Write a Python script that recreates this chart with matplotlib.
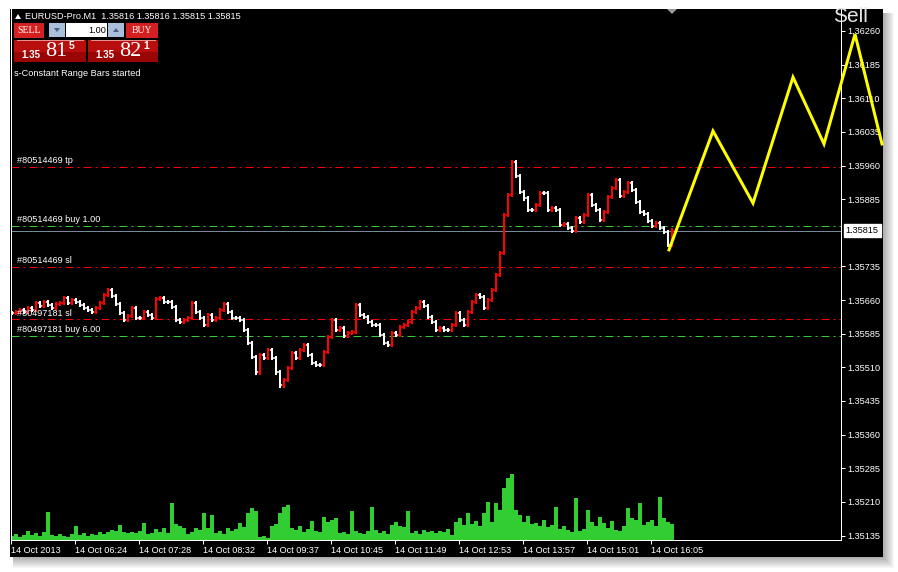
import matplotlib
matplotlib.use("Agg")
import matplotlib.pyplot as plt
from matplotlib.patches import Rectangle, Polygon
from matplotlib.transforms import blended_transform_factory

plt.rcParams['font.family'] = ['Liberation Sans', 'DejaVu Sans']

W, H = 898, 572

# closes of the range bars (one bar every 4 px)
closes = [
    1.35631, 1.35633, 1.35638, 1.35633, 1.35642, 1.35638, 1.35653, 1.35647, 1.35656, 1.35649,
    1.35642, 1.35651, 1.35653, 1.35664, 1.35653, 1.35660, 1.35656, 1.35649, 1.35642, 1.35638,
    1.35633, 1.35642, 1.35653, 1.35671, 1.35682, 1.35669, 1.35651, 1.35631, 1.35615, 1.35624,
    1.35642, 1.35620, 1.35620, 1.35633, 1.35627, 1.35620, 1.35662, 1.35664, 1.35656, 1.35656,
    1.35644, 1.35615, 1.35611, 1.35615, 1.35620, 1.35653, 1.35633, 1.35620, 1.35604, 1.35627,
    1.35615, 1.35620, 1.35638, 1.35651, 1.35633, 1.35620, 1.35620, 1.35615, 1.35593, 1.35564,
    1.35533, 1.35499, 1.35537, 1.35531, 1.35549, 1.35531, 1.35499, 1.35470, 1.35482, 1.35508,
    1.35542, 1.35531, 1.35549, 1.35560, 1.35537, 1.35520, 1.35515, 1.35515, 1.35544, 1.35578,
    1.35615, 1.35593, 1.35598, 1.35580, 1.35586, 1.35589, 1.35649, 1.35627, 1.35622, 1.35611,
    1.35604, 1.35604, 1.35582, 1.35564, 1.35560, 1.35586, 1.35582, 1.35600, 1.35604, 1.35611,
    1.35633, 1.35642, 1.35656, 1.35647, 1.35622, 1.35611, 1.35593, 1.35598, 1.35593, 1.35593,
    1.35604, 1.35631, 1.35615, 1.35604, 1.35633, 1.35656, 1.35671, 1.35667, 1.35642, 1.35660,
    1.35682, 1.35716, 1.35765, 1.35850, 1.35894, 1.35968, 1.35937, 1.35901, 1.35887, 1.35861,
    1.35861, 1.35872, 1.35899, 1.35899, 1.35861, 1.35865, 1.35861, 1.35827, 1.35829, 1.35821,
    1.35814, 1.35843, 1.35834, 1.35850, 1.35894, 1.35872, 1.35861, 1.35838, 1.35856, 1.35890,
    1.35910, 1.35928, 1.35892, 1.35901, 1.35921, 1.35905, 1.35879, 1.35856, 1.35852, 1.35836,
    1.35825, 1.35832, 1.35821, 1.35812, 1.35783, 1.35815,
]

# tick volumes of the same bars
volumes = [
    4, 6, 3, 5, 9, 5, 7, 4, 8, 28,
    5, 4, 6, 4, 3, 6, 14, 5, 7, 4,
    6, 5, 8, 6, 8, 10, 9, 15, 8, 7,
    8, 7, 9, 17, 6, 7, 11, 8, 12, 7,
    37, 16, 14, 12, 6, 8, 12, 10, 27, 12,
    25, 7, 9, 6, 12, 9, 11, 17, 13, 27,
    32, 29, 3, 4, 2, 14, 16, 27, 33, 35,
    12, 10, 14, 8, 11, 19, 9, 8, 23, 18,
    20, 22, 7, 8, 6, 29, 9, 7, 6, 9,
    33, 10, 7, 9, 6, 15, 18, 14, 13, 29,
    7, 9, 6, 10, 8, 9, 7, 9, 8, 11,
    5, 18, 22, 15, 27, 16, 19, 14, 27, 38,
    18, 37, 30, 52, 62, 66, 30, 25, 18, 24,
    16, 17, 14, 20, 13, 15, 33, 11, 14, 10,
    8, 42, 9, 11, 30, 18, 14, 23, 17, 12,
    19, 10, 9, 14, 32, 22, 20, 37, 15, 18,
    20, 14, 43, 22, 18, 16,
]

time_labels = ["14 Oct 2013", "14 Oct 06:24", "14 Oct 07:28", "14 Oct 08:32",
               "14 Oct 09:37", "14 Oct 10:45", "14 Oct 11:49", "14 Oct 12:53",
               "14 Oct 13:57", "14 Oct 15:01", "14 Oct 16:05"]
time_ticks = [-0.25 + 16 * k for k in range(len(time_labels))]

price_ticks = [1.36260, 1.36185, 1.36110, 1.36035, 1.35960, 1.35885, 1.35735,
               1.35660, 1.35585, 1.35510, 1.35435, 1.35360, 1.35285, 1.35210, 1.35135]

order_labels = ["#80514469 tp", "#80514469 buy 1.00", "#80514469 sl",
                "#80497181 sl", "#80497181 buy 6.00"]
order_prices = [1.35957, 1.35825, 1.35734, 1.35617, 1.35580]
order_colors = ["#FF0000", "#32CD32", "#FF0000", "#FF0000", "#32CD32"]

bid = 1.35815

# forecast zigzag (bar positions, prices)
zig_x = [164.25, 175.25, 185.25, 195.25, 203.0, 210.75, 217.5]
zig_y = [1.35772, 1.36037, 1.35876, 1.36157, 1.36008, 1.36253, 1.36008]

FS = 6.6
PX = 0.72  # one pixel in points

fig = plt.figure(figsize=(W / 100, H / 100), dpi=100)
fig.patch.set_facecolor("white")

# background: window shadow + black chart area
bg = fig.add_axes([0, 0, 1, 1], zorder=0)
bg.set_xlim(0, W)
bg.set_ylim(H, 0)
bg.axis("off")
for k in range(12):
    bg.add_patch(Rectangle((13, 13), 870 + k, 544 + k, color="black", alpha=0.03, lw=0))
bg.add_patch(Rectangle((10, 9), 873, 548, color="black", lw=0))

rect = [11 / W, 1 - 540 / H, 830 / W, 531 / H]
vax = fig.add_axes(rect, zorder=2)
vax.set_facecolor("black")
vax.axis("off")
ax = fig.add_axes(rect, zorder=3)
ax.set_facecolor("none")

xs = list(range(len(closes)))
xlim = (-0.25, 207.25)

# volumes
vax.bar(xs, volumes, width=0.9, color="#32CD32", lw=0)
vax.set_xlim(*xlim)
vax.set_ylim(0, 531)

# order lines and bid line
for lab, p, c in zip(order_labels, order_prices, order_colors):
    ln, = ax.plot(xlim, [p, p], color=c, lw=PX, zorder=2)
    ln.set_dashes([8, 4, 2, 4])
ax.axhline(bid, color="#778899", lw=PX, zorder=2)

# range bars: up = red, down = white
opens = [closes[0]] + closes[:-1]
pad = 0.00005
cols = ["#FF0000" if c > o else "#FFFFFF" for o, c in zip(opens, closes)]
lows = [min(o, c) - pad for o, c in zip(opens, closes)]
highs = [max(o, c) + pad for o, c in zip(opens, closes)]
ax.vlines(xs, lows, highs, colors=cols, lw=2 * PX, zorder=3)
ax.hlines(opens, [x - 0.5 for x in xs], xs, colors=cols, lw=1.5 * PX, zorder=3)
ax.hlines(closes, xs, [x + 0.5 for x in xs], colors=cols, lw=1.5 * PX, zorder=3)

for lab, p in zip(order_labels, order_prices):
    ax.annotate(lab, (1.25, p), xytext=(0, 1.2), textcoords="offset points",
                color="white", fontsize=FS, va="bottom", ha="left", zorder=5)

# forecast line
ax.plot(zig_x, zig_y, color="#FFFF00", lw=3 * PX, clip_on=False, zorder=6,
        solid_joinstyle="miter")

ax.set_xlim(*xlim)
ax.set_ylim(1.35125, 1.36309)
ax.yaxis.tick_right()
ax.set_yticks(price_ticks)
ax.set_yticklabels(["%.5f" % p for p in price_ticks])
ax.set_xticks(time_ticks)
ax.set_xticklabels(time_labels, ha="left")
ax.tick_params(colors="white", labelcolor="white", labelsize=FS, length=3, width=PX,
               direction="out", pad=1.5)
ax.spines["top"].set_visible(False)
for s in ("left", "right", "bottom"):
    ax.spines[s].set_color("white")
    ax.spines[s].set_linewidth(PX)

tr = blended_transform_factory(ax.transAxes, ax.transData)
ax.text(1.0055, bid, "%.5f" % bid, transform=tr, color="black", fontsize=FS,
        va="center", ha="left", zorder=7,
        bbox=dict(boxstyle="square,pad=0.22", fc="white", ec="white"))

# overlay: terminal widgets
ov = fig.add_axes([0, 0, 1, 1], zorder=10)
ov.set_xlim(0, W)
ov.set_ylim(H, 0)
ov.set_facecolor("none")
ov.axis("off")

ov.add_patch(Polygon([(15, 19), (21, 19), (18, 14)], color="white", lw=0))
ov.text(25, 16.5, "EURUSD-Pro.M1  1.35816 1.35816 1.35815 1.35815", color="white",
        fontsize=FS, va="center", ha="left")

ov.add_patch(Rectangle((14, 23), 30, 15, color="#D42020", lw=0))
ov.text(29, 30.5, "SELL", color="white", fontsize=7, family="Liberation Serif",
        ha="center", va="center")
ov.add_patch(Rectangle((49, 23), 16, 14, color="#A9BFDB", lw=0))
ov.add_patch(Polygon([(54, 28), (60, 28), (57, 32)], color="#50607A", lw=0))
ov.add_patch(Rectangle((66, 23), 41, 14, color="white", lw=0))
ov.text(106, 30.5, "1.00", color="black", fontsize=FS, ha="right", va="center")
ov.add_patch(Rectangle((108, 23), 16, 14, color="#A9BFDB", lw=0))
ov.add_patch(Polygon([(113, 32), (119, 32), (116, 28)], color="#50607A", lw=0))
ov.add_patch(Rectangle((126, 23), 32, 15, color="#D42020", lw=0))
ov.text(142, 30.5, "BUY", color="white", fontsize=7, family="Liberation Serif",
        ha="center", va="center")

for x0, x1, big, sup in [(14, 86, "81", "5"), (88, 158, "82", "1")]:
    ov.add_patch(Rectangle((x0, 40), x1 - x0, 22, color="#B80E0E", lw=0))
    ov.add_patch(Rectangle((x0, 52), x1 - x0, 10, color="#9A0606", lw=0))
    ov.plot([x0 + 3, x1 - 3], [39.5, 39.5], color="#E89090", lw=PX)
    ov.text(x0 + 7, 54.5, "1.35", color="white", fontsize=7, fontweight="bold",
            ha="left", va="center")
    ov.text(x0 + 31, 52, big, color="white", fontsize=16, family="Liberation Serif",
            ha="left", va="center")
    ov.text(x0 + 55, 46, sup, color="white", fontsize=7.5, fontweight="bold",
            ha="left", va="center")

ov.text(14, 73, "s-Constant Range Bars started", color="white", fontsize=FS,
        ha="left", va="center")

ov.add_patch(Polygon([(667, 9), (677, 9), (672, 14)], color="#9A9A9A", lw=0))

ov.text(833, 16.5, "Sell", color="#E6E6E6", fontsize=15, ha="left", va="center")

fig.savefig("out.png", dpi=100, facecolor="white")
